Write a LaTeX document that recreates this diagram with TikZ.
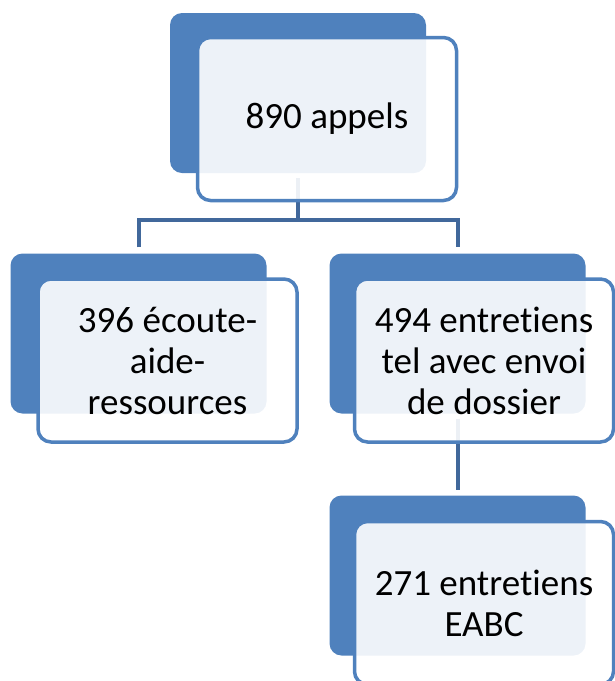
\documentclass[tikz,border=0pt]{standalone}
\usepackage{fontspec}
\setmainfont{Carlito}[Ligatures=NoCommon]
\usetikzlibrary{shapes,arrows}
\definecolor{boxblue}{RGB}{79,129,189}
\definecolor{linkblue}{RGB}{65,104,155}
\tikzstyle{backbox} = [fill=boxblue, rectangle, rounded corners=12pt,
    minimum width=256pt, minimum height=160pt, inner sep=0pt]
\tikzstyle{frontbox} = [draw=boxblue, line width=3.5pt, fill=white, fill opacity=0.9,
    text opacity=1, rectangle, rounded corners=13pt, align=center,
    minimum width=259pt, minimum height=163pt, inner sep=0pt,
    font=\fontsize{37}{41}\selectfont]
\tikzstyle{link} = [draw=linkblue, line width=4pt]

\begin{document}
\begin{tikzpicture}[x=1pt,y=-1pt]
            \useasboundingbox (0,0) rectangle (615,681);
            % back boxes
            \node[backbox] (b1) at (298,93) {};
            \node[backbox] (b2) at (138.5,333.5) {};
            \node[backbox] (b3) at (457.5,333.5) {};
            \node[backbox] (b4) at (457.5,575.5) {};
            % connectors
            \coordinate (fork) at (298,220);
            \draw[link, shorten <=5pt] (b1.south) -- (fork);
            \draw[link, shorten <=6pt, shorten >=6pt] (b2.north) |- (fork) -| (b3.north);
            \draw[link, shorten <=5pt, shorten >=5pt] (b3.south) -- (b4.north);
            % text boxes
            \node[frontbox] (f1) at (327,119) {890 appels};
            \node[frontbox] (f2) at (167.5,360.5) {396 écoute-\\aide-\\ressources};
            \node[frontbox] (f3) at (484,360.5) {494 entretiens\\tel avec envoi\\de dossier};
            \node[frontbox] (f4) at (484,603) {271 entretiens\\EABC};
        \end{tikzpicture}
\end{document}
